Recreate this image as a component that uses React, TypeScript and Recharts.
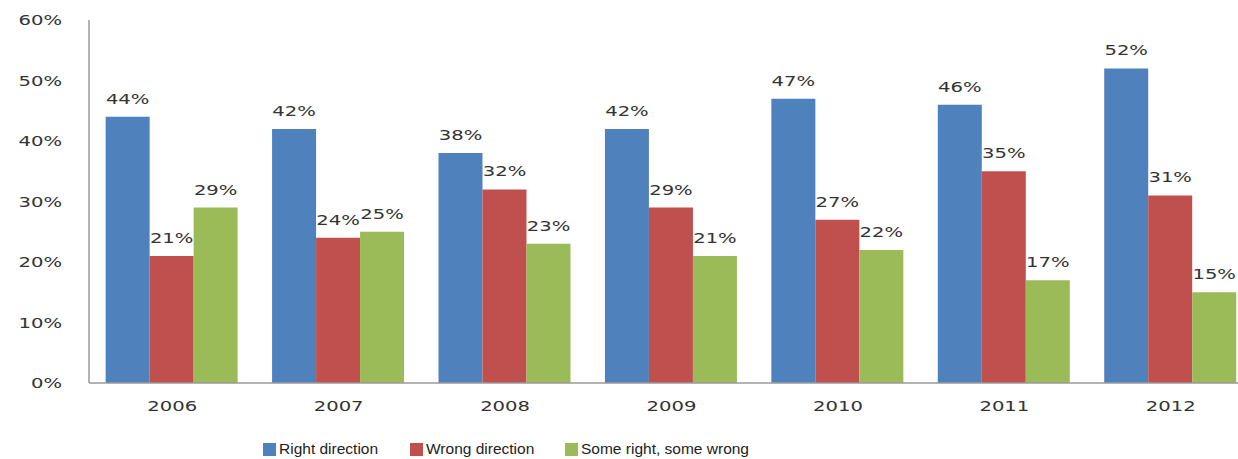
import React from 'react';
import { BarChart, Bar, XAxis, YAxis, Legend, LabelList } from 'recharts';

const years = ['2006', '2007', '2008', '2009', '2010', '2011', '2012'];
const rightDirection = [44, 42, 38, 42, 47, 46, 52];
const wrongDirection = [21, 24, 32, 29, 27, 35, 31];
const someRightSomeWrong = [29, 25, 23, 21, 22, 17, 15];
const yTicks = [0, 10, 20, 30, 40, 50, 60];

const seriesNames = ['Right direction', 'Wrong direction', 'Some right, some wrong'];
const colors = ['#4F81BD', '#C0504D', '#9BBB59'];

const data = years.map((y, i) => ({
  year: y,
  right: rightDirection[i],
  wrong: wrongDirection[i],
  some: someRightSomeWrong[i],
}));

const TEXT_FONT = 'DejaVu Sans, Verdana, sans-serif';
const STRETCH = 1.4;

const YTick = (props: any) => {
  const { x, y, payload } = props;
  return (
    <text
      transform={`translate(${x},${y}) scale(${STRETCH},1)`}
      textAnchor="end"
      dy="0.36em"
      fontFamily={TEXT_FONT}
      fontSize={14}
      fill="#333"
    >
      {`${payload.value}%`}
    </text>
  );
};

const XTick = (props: any) => {
  const { x, y, payload } = props;
  return (
    <text
      transform={`translate(${x},${y}) scale(${STRETCH},1)`}
      textAnchor="middle"
      dy="0.71em"
      fontFamily={TEXT_FONT}
      fontSize={14}
      fill="#333"
    >
      {payload.value}
    </text>
  );
};

const BarLabel = (props: any) => {
  const { x, y, width, value } = props;
  return (
    <text
      transform={`translate(${x + width / 2},${y - 13}) scale(${STRETCH},1)`}
      textAnchor="middle"
      fontFamily={TEXT_FONT}
      fontSize={14}
      fill="#333"
    >
      {`${value}%`}
    </text>
  );
};

const itemWidths = [147, 155, 200];

const LegendContent = () => (
  <div style={{ display: 'flex', height: 20, alignItems: 'center' }}>
    {seriesNames.map((n, i) => (
      <div key={n} style={{ display: 'flex', alignItems: 'center', width: itemWidths[i] }}>
        <span style={{ display: 'inline-block', width: 13, height: 13, background: colors[i], marginRight: 3 }} />
        <span style={{ fontFamily: 'Liberation Sans, Arial, sans-serif', fontSize: 15.5, color: '#222', whiteSpace: 'nowrap' }}>{n}</span>
      </div>
    ))}
  </div>
);

export default function App() {
  return (
    <div style={{ position: 'fixed', left: 0, top: 0, width: 1238, height: 459, overflow: 'hidden', background: '#fff' }}>
      <BarChart
        width={1260}
        height={459}
        data={data}
        margin={{ top: 20, right: 6, bottom: 0, left: 0 }}
        barCategoryGap="10%"
        barGap={0}
      >
        <XAxis
          dataKey="year"
          height={56}
          tickLine={false}
          tickMargin={12}
          axisLine={{ stroke: '#9a9a9a', strokeWidth: 1.5 }}
          tick={<XTick />}
        />
        <YAxis
          width={89}
          domain={[0, 60]}
          ticks={yTicks}
          tickLine={false}
          tickSize={0}
          tickMargin={27}
          axisLine={{ stroke: '#9a9a9a', strokeWidth: 1.5 }}
          tick={<YTick />}
          interval={0}
        />
        <Legend
          verticalAlign="bottom"
          align="left"
          content={<LegendContent />}
          wrapperStyle={{ left: 263, bottom: 0, width: 520, height: 20 }}
        />
        <Bar dataKey="right" name={seriesNames[0]} fill={colors[0]} isAnimationActive={false}>
          <LabelList dataKey="right" content={<BarLabel />} />
        </Bar>
        <Bar dataKey="wrong" name={seriesNames[1]} fill={colors[1]} isAnimationActive={false}>
          <LabelList dataKey="wrong" content={<BarLabel />} />
        </Bar>
        <Bar dataKey="some" name={seriesNames[2]} fill={colors[2]} isAnimationActive={false}>
          <LabelList dataKey="some" content={<BarLabel />} />
        </Bar>
      </BarChart>
    </div>
  );
}
